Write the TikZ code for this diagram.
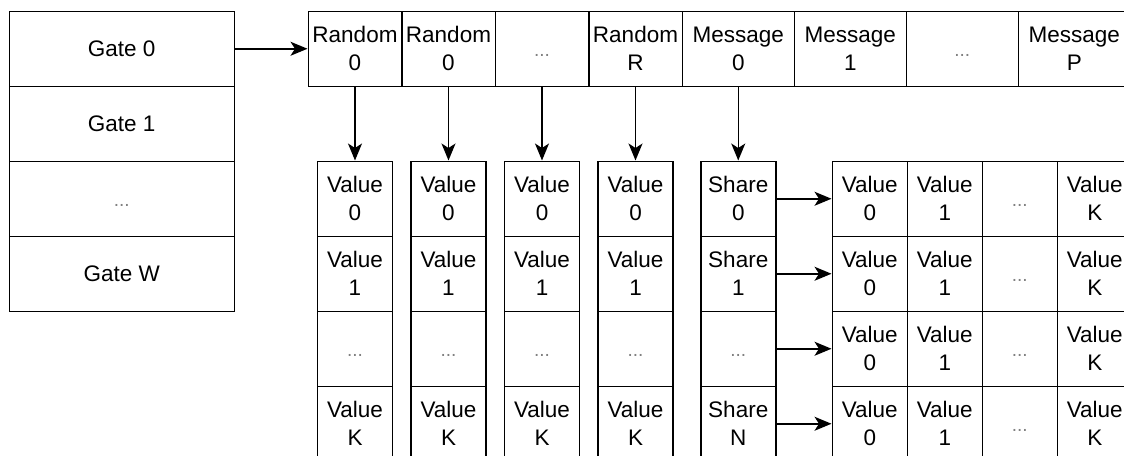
\documentclass[tikz,border=0pt]{standalone}
\usepackage{fontspec}
\setmainfont{Liberation Sans}
\usetikzlibrary{arrows.meta}
\newcommand\dotsx{\vphantom{0}{\color{black!50}\fontsize{19}{19}\selectfont ...}}
\begin{document}
\begin{tikzpicture}[x=1pt,y=-1pt,
  cell/.style={draw, line width=1.5pt, inner sep=0pt, align=center, anchor=north west,
    font=\fontsize{22.5}{28}\selectfont, minimum height=75pt},
  gatecell/.style={cell, minimum width=225pt},
  rcell/.style={cell, minimum width=93.5pt},
  mcell/.style={cell, minimum width=112pt},
  vcell/.style={cell, minimum width=75pt},
  arr/.style={-{Stealth[length=17pt,width=14pt,inset=4.5pt]}, line width=1.5pt},
]
\useasboundingbox (0,0) rectangle (1124,455);
\clip (0,0) rectangle (1124,455);

% gates
\node[gatecell] (g0) at (8.5,10.5) {Gate 0};
\node[gatecell] (g1) at (8.5,85.5) {Gate 1};
\node[gatecell] (g2) at (8.5,160.5) {\dotsx};
\node[gatecell] (g3) at (8.5,235.5) {Gate W};

% top row
\node[rcell] (r1) at (307.5,10.5) {Random\\0};
\node[rcell] (r2) at (401,10.5) {Random\\0};
\node[rcell] (r3) at (494.5,10.5) {\dotsx};
\node[rcell] (r4) at (588,10.5) {Random\\R};
\node[mcell] (m1) at (681.5,10.5) {Message\\0};
\node[mcell] (m2) at (793.5,10.5) {Message\\1};
\node[mcell] (m3) at (905.5,10.5) {\dotsx};
\node[mcell] (m4) at (1017.5,10.5) {Message\\P};

% value columns
\foreach \c/\x in {1/316.75,2/410.25,3/503.75,4/597.25} {
  \node[vcell] (c\c-1) at (\x,160.5) {Value\\0};
  \node[vcell] (c\c-2) at (\x,235.5) {Value\\1};
  \node[vcell] (c\c-3) at (\x,310.5) {\dotsx};
  \node[vcell] (c\c-4) at (\x,385.5) {Value\\K};
}

% share column
\node[vcell] (s1) at (700,160.5) {Share\\0};
\node[vcell] (s2) at (700,235.5) {Share\\1};
\node[vcell] (s3) at (700,310.5) {\dotsx};
\node[vcell] (s4) at (700,385.5) {Share\\N};

% grid
\foreach \j/\y in {1/160.5,2/235.5,3/310.5,4/385.5} {
  \node[vcell] (v\j-1) at (831.5,\y) {Value\\0};
  \node[vcell] (v\j-2) at (906.5,\y) {Value\\1};
  \node[vcell] (v\j-3) at (981.5,\y) {\dotsx};
  \node[vcell] (v\j-4) at (1056.5,\y) {Value\\K};
}

% arrows
\draw[arr] (g0.east) -- (r1.west);
\foreach \i in {1,...,4} \draw[arr] (r\i.south) -- (c\i-1.north);
\draw[arr] (m1.south) -- (s1.north);
\foreach \j in {1,...,4} \draw[arr] (s\j.east) -- (v\j-1.west);
\end{tikzpicture}
\end{document}
